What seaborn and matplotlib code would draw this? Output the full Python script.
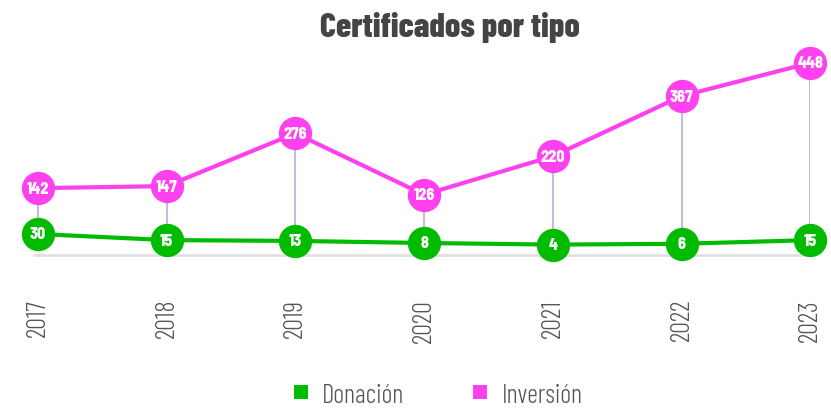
import matplotlib
matplotlib.use('Agg')
import matplotlib.pyplot as plt
from matplotlib.lines import Line2D
import seaborn as sns
import pandas as pd

# data
years = ['2017', '2018', '2019', '2020', '2021', '2022', '2023']
donacion = [30, 15, 13, 8, 4, 6, 15]
inversion = [142, 147, 276, 126, 220, 367, 448]

green = '#00bb00'
magenta = '#ff40ee'
stem_color = '#c4bbe0'

sns.set_style('white')
plt.rcParams['font.family'] = ['Barlow Condensed', 'DejaVu Sans']

df = pd.DataFrame({
    'Año': years * 2,
    'Certificados': donacion + inversion,
    'Tipo': ['Donación'] * len(years) + ['Inversión'] * len(years),
})
df['x'] = df['Año'].map({y: i for i, y in enumerate(years)})

fig = plt.figure(figsize=(8.31, 4.10), dpi=100)
ax = fig.add_axes([0.041, 0.376, 0.934, 0.526])

# connector lines between the two series
ax.vlines(range(len(years)), donacion, inversion, color=stem_color, lw=1.5, zorder=1)

sns.lineplot(data=df, x='x', y='Certificados', hue='Tipo',
             palette={'Donación': green, 'Inversión': magenta},
             marker='o', markersize=24, markeredgewidth=0, linewidth=3,
             legend=False, ax=ax, zorder=3, clip_on=False)

for i in range(len(years)):
    for vals in (donacion, inversion):
        ax.text(i, vals[i], str(vals[i]), color='white', fontsize=11.5,
                fontweight=800, family=['Barlow Semi Condensed', 'DejaVu Sans'],
                ha='center', va='center', zorder=5)

ax.set_xlim(-0.03, 6.0)
ax.set_ylim(-21, 506)
ax.axhline(-21, color='#e0e0e0', lw=2, zorder=0, clip_on=False)
for s in ax.spines.values():
    s.set_visible(False)
ax.set_yticks([])
ax.set_xticks(range(len(years)))
ax.set_xticklabels(years, rotation=90, fontsize=19, color='#555555', fontweight=300)
ax.tick_params(axis='x', length=0, pad=31)
ax.set_xlabel('')
ax.set_ylabel('')

fig.text(0.5415, 0.934, 'Certificados por tipo', ha='center', va='center',
         fontsize=24.5, fontweight=800, color='#444444')

handles = [Line2D([], [], marker='s', color='none', markerfacecolor=green,
                  markeredgewidth=0, markersize=10),
           Line2D([], [], marker='s', color='none', markerfacecolor=magenta,
                  markeredgewidth=0, markersize=10)]
fig.legend(handles, ['Donación', 'Inversión'], loc='center',
           bbox_to_anchor=(0.525, 0.035), ncol=2, frameon=False,
           prop={'size': 19, 'weight': 300}, labelcolor='#555555',
           columnspacing=2.5, handletextpad=0.4, handlelength=0.8)

fig.savefig('out.png', dpi=100)
